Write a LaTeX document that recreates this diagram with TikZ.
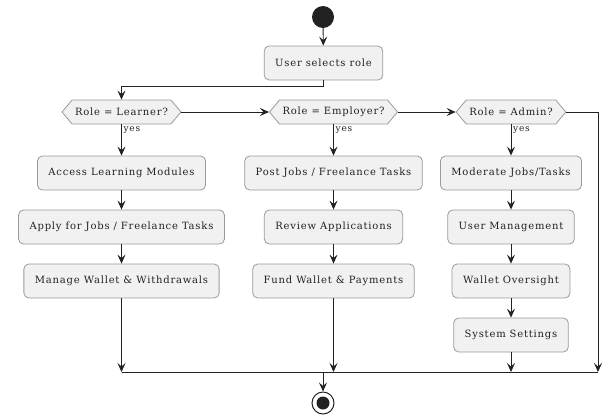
\documentclass[tikz,border=0pt]{standalone}
\usepackage{fontspec}
\setmainfont{DejaVu Serif}[LetterSpace=8]
\usetikzlibrary{arrows.meta,shapes.symbols}
\definecolor{boxfill}{HTML}{F1F1F1}
\definecolor{boxborder}{HTML}{9A9A9A}
\definecolor{linec}{HTML}{222222}
\definecolor{textc}{HTML}{222222}
\begin{document}
\begin{tikzpicture}[x=1pt,y=-1pt,
  act/.style={draw=boxborder, fill=boxfill, rounded corners=5pt, minimum height=34pt,
    inner xsep=11pt, font=\fontsize{10}{12}\selectfont, text=textc, line width=0.8pt},
  dec/.style={signal, signal to=east and west, signal pointer angle=100, draw=boxborder,
    fill=boxfill, minimum height=24pt, inner xsep=3pt, inner ysep=2pt,
    font=\fontsize{10}{12}\selectfont, text=textc, line width=0.8pt},
  flow/.style={draw=linec, line width=0.9pt},
  arr/.style={flow, -{Stealth[length=9pt,width=8pt,inset=3.5pt]}},
  lbl/.style={font=\fontsize{9}{10}\selectfont, text=textc, inner sep=1pt},
  startc/.style={circle, fill=linec, minimum size=22pt, inner sep=0pt},
  endc/.style={circle, draw=linec, line width=1pt, fill=white, minimum size=22pt, inner sep=0pt}]
\path[use as bounding box] (0,0) rectangle (602,416);
\node[startc] (start) at (323,17) {};
\node[act] (sel) at (323.5,63) {User selects role};
\node[dec] (dL) at (121.5,112) {Role = Learner?};
\node[dec] (dE) at (333.5,112) {Role = Employer?};
\node[dec] (dA) at (511,112) {Role = Admin?};
\node[act] (L1) at (121.5,173) {Access Learning Modules};
\node[act] (L2) at (121.5,227) {Apply for Jobs / Freelance Tasks};
\node[act] (L3) at (121.5,281) {Manage Wallet \& Withdrawals};
\node[act] (E1) at (333.5,173) {Post Jobs / Freelance Tasks};
\node[act] (E2) at (333.5,227) {Review Applications};
\node[act] (E3) at (333.5,281) {Fund Wallet \& Payments};
\node[act] (A1) at (511,173) {Moderate Jobs/Tasks};
\node[act] (A2) at (511,227) {User Management};
\node[act] (A3) at (511,281) {Wallet Oversight};
\node[act] (A4) at (511,335) {System Settings};
\node[lbl, anchor=north west] (yL) at ([xshift=1pt,yshift=-1pt]dL.south) {yes};
\node[lbl, anchor=north west] (yE) at ([xshift=1pt,yshift=-1pt]dE.south) {yes};
\node[lbl, anchor=north west] (yA) at ([xshift=1pt,yshift=-1pt]dA.south) {yes};
\coordinate (mL) at (121.5,372);
\coordinate (mE) at (333.5,372);
\coordinate (mA) at (511,372);
\coordinate (mR) at (598,372);
\coordinate (mC) at (323,372);
\node[endc] (end) at (323,403) {};
\fill[linec] (end.center) circle (6.5);
\draw[arr] (start) -- (sel);
\draw[arr] (sel.south) -- ++(0,6) -| (dL.north);
\draw[arr] (dL.east) -- (dE.west);
\draw[arr] (dE.east) -- (dA.west);
\draw[arr] (dA.east) -| (mR);
\draw[arr] (dL.south) -- (L1.north);
\draw[arr] (dE.south) -- (E1.north);
\draw[arr] (dA.south) -- (A1.north);
\draw[arr] (L1) -- (L2);
\draw[arr] (L2) -- (L3);
\draw[arr] (E1) -- (E2);
\draw[arr] (E2) -- (E3);
\draw[arr] (A1) -- (A2);
\draw[arr] (A2) -- (A3);
\draw[arr] (A3) -- (A4);
\draw[arr] (L3) -- (mL);
\draw[arr] (E3) -- (mE);
\draw[arr] (A4) -- (mA);
\draw[flow] (mL) -- (mR);
\draw[arr] (mC) -- (end);
\end{tikzpicture}
\end{document}
